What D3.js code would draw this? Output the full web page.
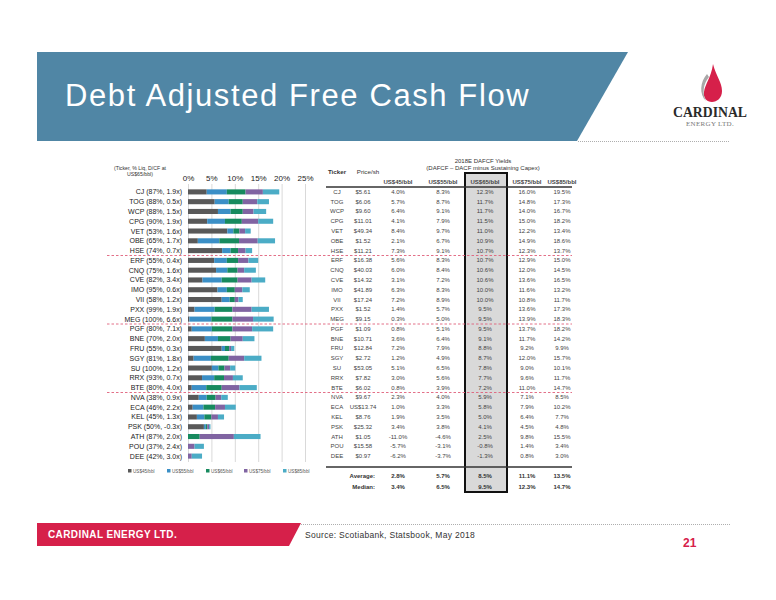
<!DOCTYPE html>
<html><head><meta charset="utf-8">
<script src="https://cdn.jsdelivr.net/npm/d3@7"></script>
<style>body{margin:0;background:#fff}svg{display:block;font-family:"Liberation Sans",Arial,sans-serif}</style>
</head><body><div id="c"></div>
<script>
const tickers=["CJ","TOG","WCP","CPG","VET","OBE","HSE","ERF","CNQ","CVE","IMO","VII","PXX","MEG","PGF","BNE","FRU","SGY","SU","RRX","BTE","NVA","ECA","KEL","PSK","ATH","POU","DEE"];
const liquidity=[87,88,88,90,53,65,74,55,75,82,95,58,99,100,80,70,55,81,100,93,80,38,46,45,50,87,37,42];
const debtToCF=[1.9,0.5,1.5,1.9,1.6,1.7,0.7,0.4,1.6,3.4,0.6,1.2,1.9,6.6,7.1,2.0,0.3,1.8,1.2,0.7,4.0,0.9,2.2,1.3,-0.3,2.0,2.4,3.0];
const prices=["$5.61","$6.06","$9.60","$11.01","$49.34","$1.52","$11.21","$16.38","$40.03","$14.32","$41.89","$17.24","$1.52","$9.15","$1.09","$10.71","$12.84","$2.72","$53.05","$7.82","$6.02","$9.67","US$13.74","$8.76","$25.32","$1.05","$15.58","$0.97"];
const seriesNames=["US$45/bbl","US$55/bbl","US$65/bbl","US$75/bbl","US$85/bbl"];
const y45=[4.0,5.7,6.4,4.1,8.4,2.1,7.3,5.6,6.0,3.1,6.3,7.2,1.4,0.3,0.8,3.6,7.2,1.2,5.1,3.0,0.8,2.3,1.0,1.9,3.4,-11.0,-5.7,-6.2];
const y55=[8.3,8.7,9.1,7.9,9.7,6.7,9.1,8.3,8.4,7.2,8.3,8.9,5.7,5.0,5.1,6.4,7.9,4.9,6.5,5.6,3.9,4.0,3.3,3.5,3.8,-4.6,-3.1,-3.7];
const y65=[12.3,11.7,11.7,11.5,11.0,10.9,10.7,10.7,10.6,10.6,10.0,10.0,9.5,9.5,9.5,9.1,8.8,8.7,7.8,7.7,7.2,5.9,5.8,5.0,4.1,2.5,-0.8,-1.3];
const y75=[16.0,14.8,14.0,15.0,12.2,14.9,12.3,12.9,12.0,13.6,11.6,10.8,13.6,13.9,13.7,11.7,9.2,12.0,9.0,9.6,11.0,7.1,7.9,6.4,4.5,9.8,1.4,0.8];
const y85=[19.5,17.3,16.7,18.2,13.4,18.6,13.7,15.0,14.5,16.5,13.2,11.7,17.3,18.3,18.2,14.2,9.9,15.7,10.1,11.7,14.7,8.5,10.2,7.7,4.8,15.5,3.4,3.0];
const averages=["2.8%","5.7%","8.5%","11.1%","13.5%"];
const medians=["3.4%","6.5%","9.5%","12.3%","14.7%"];
const xTicks=[0,5,10,15,20,25];
const groupBreaks=[7,14,21];

const series=[y45,y55,y65,y75,y85];
const colors=["#595959","#3b8fc6","#178a5e","#8064a2","#4bacc6"];
const W=776,H=600;
const svg=d3.select("#c").append("svg").attr("width",W).attr("height",H);
const loc=d3.formatLocale({decimal:".",thousands:",",grouping:[3],currency:["$",""],minus:"-"});
const f1=loc.format(".1f");

// Title banner
svg.append("polygon").attr("points","37,52 628,52 577,141 37,141").attr("fill","#5086a5");
svg.append("text").attr("x",65).attr("y",106).attr("fill","#fff").attr("font-size",31).attr("letter-spacing",1.6).text("Debt Adjusted Free Cash Flow");
svg.append("line").attr("x1",578).attr("x2",730).attr("y1",141.5).attr("y2",141.5).attr("stroke","#999").attr("stroke-dasharray","1,1").attr("stroke-width",0.8);
// Logo
const lg=svg.append("g");
lg.append("path").attr("d","M713,64 C716,76 722,82 722,91 C722,98 717,102 712,102 C707,102 703,98 704,92 C705,84 711,78 713,64 Z").attr("fill","#d6204a");
lg.append("path").attr("d","M707,74 C700,82 699,94 706,101 C702,94 703,84 709,77 Z").attr("fill","#a8a8a8");
lg.append("text").attr("x",710).attr("y",117).attr("text-anchor","middle").style("font-family","'Liberation Serif',serif").attr("font-size",14).attr("font-weight","bold").attr("fill","#2a2a2a").attr("textLength",74).attr("lengthAdjust","spacingAndGlyphs").text("CARDINAL");
lg.append("text").attr("x",710).attr("y",126).attr("text-anchor","middle").style("font-family","'Liberation Serif',serif").attr("font-size",7).attr("letter-spacing",0.3).attr("fill","#777").text("ENERGY LTD.");

// Chart
const x=d3.scaleLinear().domain([0,25]).range([188,305]);
const y=d3.scaleBand().domain(d3.range(tickers.length)).range([187,461]).paddingInner(0.48).paddingOuter(0.24);
const rowY=i=>y(i)+y.bandwidth()/2;
const ax=svg.append("g").attr("transform","translate(0,184)").call(d3.axisTop(x).tickValues(xTicks).tickFormat(d=>d+"%").tickSizeInner(-278).tickSizeOuter(0).tickPadding(3));
ax.select(".domain").remove();
ax.selectAll("line").attr("stroke","#d9d9d9");
ax.selectAll("text").attr("font-size",8).attr("fill","#222").style("font-family","'Liberation Sans',Arial,sans-serif");

svg.append("text").attr("x",140).attr("y",170).attr("text-anchor","middle").attr("font-size",5.2).attr("fill","#333").text("(Ticker, % Liq, D/CF at");
svg.append("text").attr("x",140).attr("y",176).attr("text-anchor","middle").attr("font-size",5.2).attr("fill","#333").text("US$65/bbl)");

const segs=[];
tickers.forEach((t,i)=>{series.forEach((s,k)=>{const st=k===0?0:Math.max(0,series[k-1][i]);const en=s[i];if(en>st)segs.push({i,k,st,en});});});
svg.append("g").selectAll("rect").data(segs).join("rect")
 .attr("x",d=>x(d.st)).attr("width",d=>x(d.en)-x(d.st))
 .attr("y",d=>y(d.i)).attr("height",y.bandwidth()).attr("fill",d=>colors[d.k]);

svg.append("g").selectAll("text").data(tickers).join("text")
 .attr("x",182).attr("y",(d,i)=>rowY(i)+2.5).attr("text-anchor","end").attr("font-size",7).attr("fill","#222")
 .text((d,i)=>`${d} (${liquidity[i]}%, ${f1(debtToCF[i])}x)`);

// legend
const lgX=[128,167,206,244,283];
const leg=svg.append("g").selectAll("g").data(seriesNames).join("g").attr("transform",(d,i)=>`translate(${lgX[i]},471)`);
leg.append("rect").attr("x",0).attr("y",-2).attr("width",3.5).attr("height",3.5).attr("fill",(d,i)=>colors[i]);
leg.append("text").attr("x",5).attr("y",1.5).attr("font-size",4.6).attr("fill","#555").text(d=>d);

// Table
const colX=[337,363,398,443,485,527,562];
svg.append("rect").attr("x",465).attr("y",173).attr("width",42).attr("height",319).attr("fill","#d9d9d9").attr("stroke","#111").attr("stroke-width",2);
svg.append("text").attr("x",483).attr("y",163).attr("text-anchor","middle").attr("font-size",6).attr("fill","#333").text("2018E DAFCF Yields");
svg.append("text").attr("x",483).attr("y",170).attr("text-anchor","middle").attr("font-size",6).attr("fill","#333").text("(DAFCF \u2013 DACF minus Sustaining Capex)");
svg.append("text").attr("x",colX[0]).attr("y",174).attr("text-anchor","middle").attr("font-size",6.2).attr("font-weight","bold").attr("fill","#333").text("Ticker");
svg.append("text").attr("x",colX[1]+5).attr("y",174).attr("text-anchor","middle").attr("font-size",6.2).attr("fill","#333").text("Price/sh");
seriesNames.forEach((n,k)=>svg.append("text").attr("x",colX[k+2]).attr("y",184).attr("text-anchor","middle").attr("font-size",6).attr("font-weight","600").attr("fill","#444").text(n));
svg.append("line").attr("x1",326).attr("x2",572).attr("y1",187).attr("y2",187).attr("stroke","#333").attr("stroke-width",1.3);
svg.append("line").attr("x1",326).attr("x2",572).attr("y1",467).attr("y2",467).attr("stroke","#333").attr("stroke-width",1.3);
const pct=v=>f1(v)+"%";
const rows=svg.append("g").selectAll("g").data(tickers).join("g").attr("transform",(d,i)=>`translate(0,${rowY(i)+2})`);
rows.append("text").attr("x",colX[0]).attr("text-anchor","middle").attr("font-size",6).attr("fill","#444").text(d=>d);
rows.append("text").attr("x",colX[1]).attr("text-anchor","middle").attr("font-size",6).attr("fill","#444").text((d,i)=>prices[i]);
series.forEach((s,k)=>rows.append("text").attr("x",colX[k+2]).attr("text-anchor","middle").attr("font-size",6).attr("fill","#444").text((d,i)=>pct(s[i])));
[["Average:",averages,478],["Median:",medians,489]].forEach(([lab,arr,yy])=>{
 svg.append("text").attr("x",375).attr("y",yy).attr("text-anchor","end").attr("font-size",6).attr("font-weight","bold").attr("fill","#333").text(lab);
 arr.forEach((v,k)=>svg.append("text").attr("x",colX[k+2]).attr("y",yy).attr("text-anchor","middle").attr("font-size",6).attr("font-weight","bold").attr("fill","#333").text(v));
});
// dashed group separators
groupBreaks.forEach(b=>{const yy=(rowY(b-1)+rowY(b))/2;svg.append("line").attr("x1",107).attr("x2",572).attr("y1",yy).attr("y2",yy).attr("stroke","#e0607a").attr("stroke-width",0.9).attr("stroke-dasharray","2.5,2");});

// Footer
svg.append("polygon").attr("points","37,523 301,523 289,546 37,546").attr("fill","#d6204a");
svg.append("text").attr("x",48).attr("y",538).attr("fill","#fff").attr("font-size",10).attr("font-weight","bold").attr("letter-spacing",0.4).text("CARDINAL ENERGY LTD.");
svg.append("line").attr("x1",301).attr("x2",730).attr("y1",524.5).attr("y2",524.5).attr("stroke","#999").attr("stroke-dasharray","1,1").attr("stroke-width",0.8);
svg.append("text").attr("x",305).attr("y",538).attr("fill","#333").attr("font-size",8.5).attr("letter-spacing",0.3).text("Source: Scotiabank, Statsbook, May 2018");
svg.append("text").attr("x",683).attr("y",547).attr("fill","#d6204a").attr("font-size",12).attr("font-weight","bold").text("21");
</script></body></html>
